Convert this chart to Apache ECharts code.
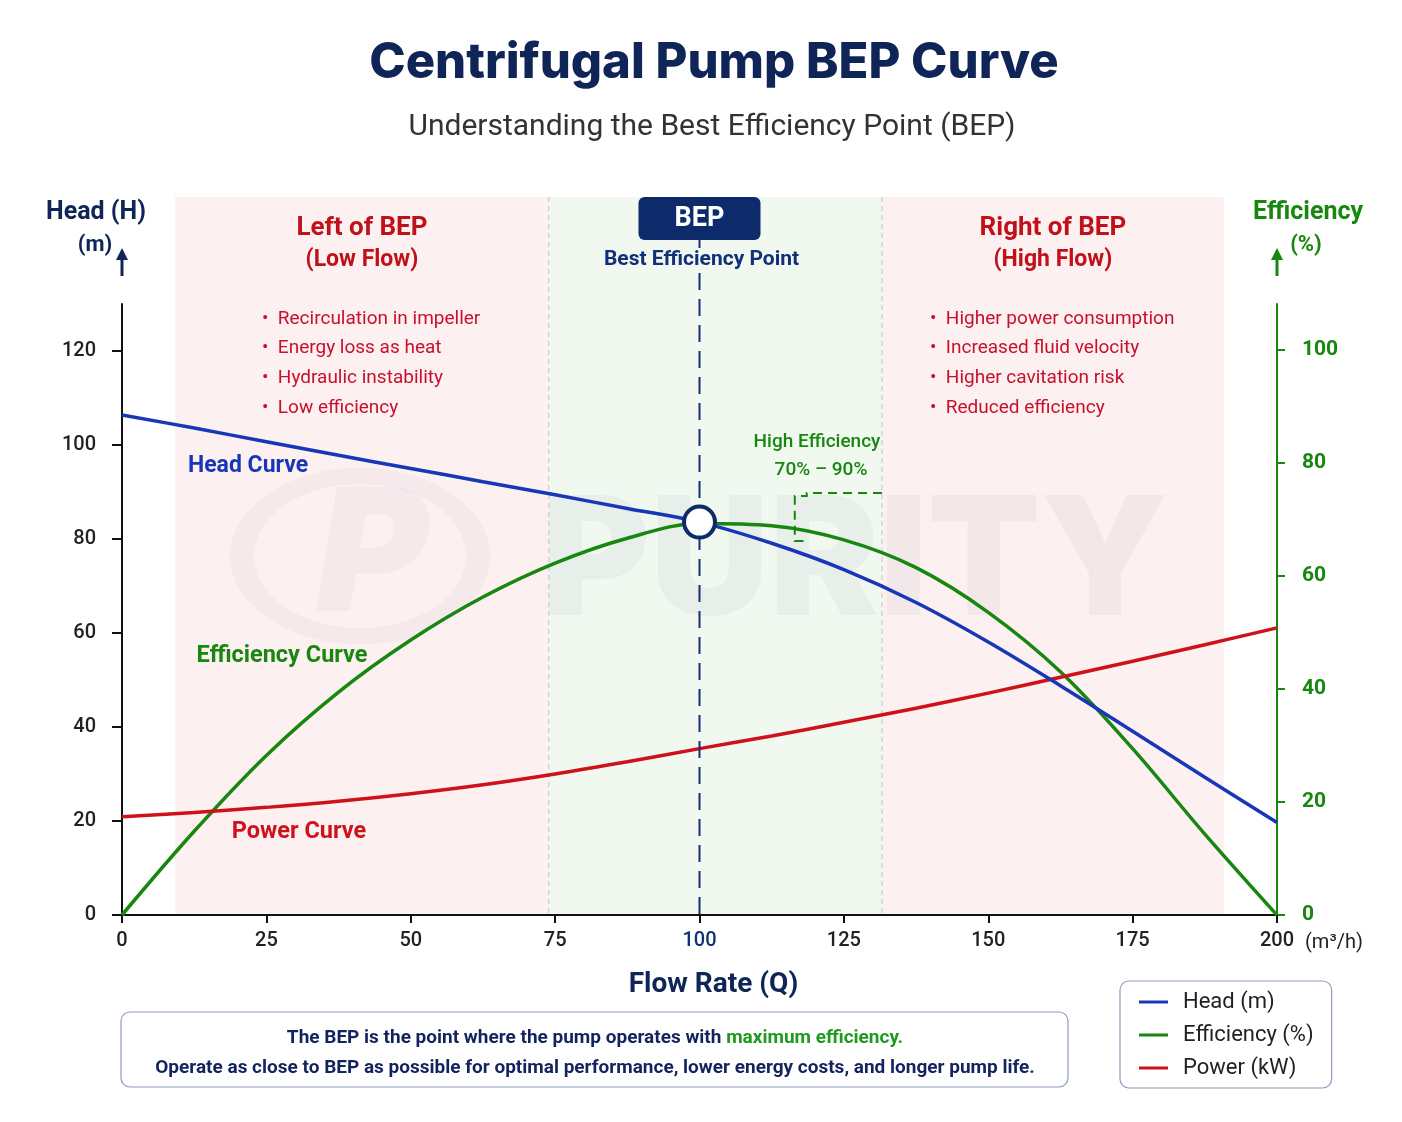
<!DOCTYPE html>
<html lang="en">
<head>
	<meta charset="UTF-8">
	<title>Centrifugal Pump BEP Curve</title>
	<script src="https://cdn.jsdelivr.net/npm/echarts@6/dist/echarts.min.js"></script>
	<style type="text/css">
		body { margin: 0; background: #fff; }
		#main { width: 1402px; height: 1122px; }
	</style>
</head>
<body>
	<div id="main"></div>
	<script type="text/javascript">
		// flow rate (m3/h) and the three curves
		var flow = [0, 12.5, 25, 37.5, 50, 62.5, 75, 87.5, 100, 112.5, 125, 137.5, 150, 162.5, 175, 187.5, 200];
		var head = [106.4, 103.6, 100.7, 97.8, 95.0, 92.2, 89.4, 86.5, 83.6, 79.1, 73.5, 66.5, 58.1, 48.8, 39.1, 29.3, 19.7];
		var efficiency = [0, 14.8, 28.2, 39.4, 48.6, 56.2, 62.2, 66.6, 69.2, 68.8, 66.3, 61.4, 53.5, 43.0, 29.4, 14.3, 0];
		var power = [20.9, 21.8, 22.9, 24.2, 25.8, 27.7, 30.0, 32.6, 35.4, 38.1, 41.0, 44.0, 47.2, 50.6, 54.0, 57.5, 61.1];

		var xTicks = [0, 25, 50, 75, 100, 125, 150, 175, 200];
		var headTicks = [0, 20, 40, 60, 80, 100, 120];
		var effTicks = [0, 20, 40, 60, 80, 100];

		// zone edges on the flow axis: low-flow start, BEP zone start/end, high-flow end
		var zoneEdges = [9.2, 73.9, 131.6, 190.8];
		var bepFlow = 100;
		var bepHead = 83.6;
		var highEffBracket = [116.5, 74.6, 66.1]; // flow, top eff, bottom eff

		var leftNotes = ['Recirculation in impeller', 'Energy loss as heat', 'Hydraulic instability', 'Low efficiency'];
		var rightNotes = ['Higher power consumption', 'Increased fluid velocity', 'Higher cavitation risk', 'Reduced efficiency'];

		var FONT = "Roboto, 'Noto Sans', sans-serif";
		var NAVY = '#0f2557';
		var BLUE = '#1736b8';
		var GREEN = '#17870f';
		var RED = '#cf111b';
		var DARKRED = '#c0101a';

		function pairs(ys) {
			return flow.map(function (x, i) { return [x, ys[i]]; });
		}

		var chart = echarts.init(document.getElementById('main'));

		var option = {
			animation: false,
			backgroundColor: '#fff',
			grid: { left: 122, right: 125, top: 304, bottom: 207, containLabel: false },
			legend: {
				data: ['Head (m)', 'Efficiency (%)', 'Power (kW)'],
				orient: 'vertical',
				left: 1120,
				top: 981,
				icon: 'rect',
				itemWidth: 29,
				itemHeight: 3,
				itemGap: 9,
				padding: [9, 18, 8, 19],
				borderColor: '#8f9cc2',
				borderWidth: 1.2,
				borderRadius: 9,
				backgroundColor: '#fff',
				textStyle: { fontSize: 22, color: '#222', fontFamily: FONT, lineHeight: 24, padding: [0, 0, 0, 10] }
			},
			xAxis: {
				type: 'value',
				min: 0,
				max: 200,
				interval: 25,
				axisLine: { lineStyle: { color: '#111', width: 2 } },
				axisTick: { length: 8, lineStyle: { color: '#111', width: 2 }, customValues: xTicks },
				axisLabel: {
					margin: 16,
					fontSize: 20,
					fontWeight: 500,
					color: '#222',
					fontFamily: FONT,
					customValues: xTicks,
					formatter: function (v) { return v === bepFlow ? '{bep|' + v + '}' : '' + v; },
					rich: { bep: { color: '#12307a', fontSize: 20, fontWeight: 500, fontFamily: FONT } }
				},
				splitLine: { show: false }
			},
			yAxis: [
				{
					type: 'value',
					position: 'left',
					min: 0,
					max: 130,
					interval: 20,
					axisLine: { show: true, lineStyle: { color: '#111', width: 2 } },
					axisTick: { show: true, length: 10, lineStyle: { color: '#111', width: 2 }, customValues: headTicks },
					axisLabel: { margin: 26, fontSize: 20, fontWeight: 500, color: '#222', fontFamily: FONT, customValues: headTicks },
					splitLine: { show: false }
				},
				{
					type: 'value',
					position: 'right',
					min: 0,
					max: 108,
					interval: 20,
					axisLine: { show: true, lineStyle: { color: GREEN, width: 2 } },
					axisTick: { show: true, length: 8, lineStyle: { color: GREEN, width: 2 }, customValues: effTicks },
					axisLabel: { margin: 25, fontSize: 21, fontWeight: 'bold', color: GREEN, fontFamily: FONT, customValues: effTicks },
					splitLine: { show: false }
				}
			],
			series: [
				{
					name: 'Head (m)',
					type: 'line',
					data: pairs(head),
					smooth: 0.35,
					showSymbol: false,
					color: BLUE,
					lineStyle: { width: 3.5, color: BLUE },
					z: 4
				},
				{
					name: 'Efficiency (%)',
					type: 'line',
					yAxisIndex: 1,
					data: pairs(efficiency),
					smooth: 0.35,
					showSymbol: false,
					color: GREEN,
					lineStyle: { width: 3.5, color: GREEN },
					z: 3
				},
				{
					name: 'Power (kW)',
					type: 'line',
					data: pairs(power),
					smooth: 0.35,
					showSymbol: false,
					color: RED,
					lineStyle: { width: 3.5, color: RED },
					z: 3
				},
				{
					name: 'BEP',
					type: 'scatter',
					data: [[bepFlow, bepHead]],
					symbolSize: 31,
					itemStyle: { color: '#fff', borderColor: '#0d2a6b', borderWidth: 4, opacity: 1 },
					z: 10
				}
			]
		};

		chart.setOption(option);

		function px(v) { return chart.convertToPixel({ xAxisIndex: 0 }, v); }
		function pyH(v) { return chart.convertToPixel({ yAxisIndex: 0 }, v); }
		function pyE(v) { return chart.convertToPixel({ yAxisIndex: 1 }, v); }

		function txt(x, y, text, font, color, align) {
			return {
				type: 'text', x: x, y: y, z: 20, silent: true,
				style: { text: text, font: font, fill: color, align: align || 'center', verticalAlign: 'middle' }
			};
		}

		function arrow(x, yTop, yBottom, color) {
			return [
				{ type: 'line', z: 20, shape: { x1: x, y1: yBottom, x2: x, y2: yTop + 10 }, style: { stroke: color, lineWidth: 3 } },
				{ type: 'polygon', z: 20, shape: { points: [[x - 6, yTop + 12], [x + 6, yTop + 12], [x, yTop]] }, style: { fill: color } }
			];
		}

		function buildGraphics() {
			var BAND_TOP = 197;
			var yBottom = pyH(0);
			var e0 = px(zoneEdges[0]), e1 = px(zoneEdges[1]), e2 = px(zoneEdges[2]), e3 = px(zoneEdges[3]);
			var bx = px(bepFlow);
			var leftC = (e0 + e1) / 2, rightC = (e2 + e3) / 2;
			var g = [];

			// zone backgrounds
			g.push({ type: 'rect', z: -10, silent: true, shape: { x: e0, y: BAND_TOP, width: e1 - e0, height: yBottom - BAND_TOP }, style: { fill: '#fcf0f0' } });
			g.push({ type: 'rect', z: -10, silent: true, shape: { x: e1, y: BAND_TOP, width: e2 - e1, height: yBottom - BAND_TOP }, style: { fill: '#f1f8f0' } });
			g.push({ type: 'rect', z: -10, silent: true, shape: { x: e2, y: BAND_TOP, width: e3 - e2, height: yBottom - BAND_TOP }, style: { fill: '#fcf0f0' } });
			[e1, e2].forEach(function (x) {
				g.push({ type: 'line', z: -9, silent: true, shape: { x1: x, y1: BAND_TOP, x2: x, y2: yBottom }, style: { stroke: '#c4c4c4', lineWidth: 1, lineDash: [5, 4] } });
			});

			// watermark
			var wm = 'rgba(140,130,180,0.055)';
			g.push({ type: 'ring', z: -8, silent: true, x: 360, y: 556, scaleY: 0.68, shape: { cx: 0, cy: 0, r: 130, r0: 106 }, style: { fill: wm } });
			g.push(txt(372, 560, 'P', 'italic 900 170px Inter', wm));
			g[g.length - 1].z = -8;
			g.push(txt(855, 565, 'PURITY', '900 165px Inter', 'rgba(130,140,170,0.08)'));
			g[g.length - 1].z = -8;

			// titles
			g.push(txt(714, 63, 'Centrifugal Pump BEP Curve', '800 49px Inter', NAVY));
			g.push(txt(712, 127, 'Understanding the Best Efficiency Point (BEP)', '30px ' + FONT, '#333'));

			// axis names and arrows
			g.push(txt(96, 213, 'Head (H)', 'bold 25px ' + FONT, NAVY));
			g.push(txt(95, 245, '(m)', 'bold 22px ' + FONT, NAVY));
			g = g.concat(arrow(px(0), 248, 276, NAVY));
			g.push(txt(1308, 213, 'Efficiency', 'bold 25px ' + FONT, GREEN));
			g.push(txt(1306, 245, '(%)', 'bold 22px ' + FONT, GREEN));
			g = g.concat(arrow(px(200), 248, 276, GREEN));
			g.push(txt(px(200) + 28, 943, '(m\u00b3/h)', '20px ' + FONT, '#222', 'left'));
			g.push(txt((px(0) + px(200)) / 2 + 14, 985, 'Flow Rate (Q)', 'bold 28px ' + FONT, NAVY));

			// zone headings
			g.push(txt(leftC, 228, 'Left of BEP', 'bold 26px ' + FONT, DARKRED));
			g.push(txt(leftC, 260, '(Low Flow)', 'bold 23px ' + FONT, DARKRED));
			g.push(txt(rightC, 228, 'Right of BEP', 'bold 26px ' + FONT, DARKRED));
			g.push(txt(rightC, 260, '(High Flow)', 'bold 23px ' + FONT, DARKRED));
			leftNotes.forEach(function (t, i) {
				g.push(txt(262, 319 + i * 29.7, '\u2022  ' + t, '19px ' + FONT, '#c8102e', 'left'));
			});
			rightNotes.forEach(function (t, i) {
				g.push(txt(930, 319 + i * 29.7, '\u2022  ' + t, '19px ' + FONT, '#c8102e', 'left'));
			});

			// BEP marker line, box and label
			g.push({ type: 'line', z: 5, silent: true, shape: { x1: bx, y1: 240, x2: bx, y2: 248 }, style: { stroke: '#12307a', lineWidth: 2 } });
			g.push({ type: 'line', z: 5, silent: true, shape: { x1: bx, y1: 273, x2: bx, y2: yBottom }, style: { stroke: '#12307a', lineWidth: 2, lineDash: [17, 9] } });
			g.push({ type: 'rect', z: 20, silent: true, shape: { x: bx - 61, y: 197, width: 122, height: 43, r: 6 }, style: { fill: '#0d2a6b' } });
			g.push(txt(bx, 219, 'BEP', 'bold 27px ' + FONT, '#fff'));
			g.push(txt(bx + 2, 260, 'Best Efficiency Point', 'bold 21px ' + FONT, '#12307a'));

			// high-efficiency bracket
			var hx = px(highEffBracket[0]), hy1 = pyE(highEffBracket[1]), hy2 = pyE(highEffBracket[2]);
			g.push({
				type: 'polyline', z: 6, silent: true,
				shape: { points: [[e2, hy1], [hx + 12, hy1], [hx + 12, hy1 + 3], [hx, hy1 + 3], [hx, hy2], [hx + 12, hy2]] },
				style: { stroke: GREEN, lineWidth: 2, lineDash: [9, 6], fill: null }
			});
			g.push(txt(817, 442, 'High Efficiency', '500 19px ' + FONT, GREEN));
			g.push(txt(821, 470, '70% \u2013 90%', '500 19px ' + FONT, GREEN));

			// curve labels
			g.push(txt(248, 466, 'Head Curve', 'bold 23px ' + FONT, BLUE));
			g.push(txt(282, 656, 'Efficiency Curve', 'bold 23.5px ' + FONT, GREEN));
			g.push(txt(299, 832, 'Power Curve', 'bold 23.5px ' + FONT, RED));

			// note box
			g.push({ type: 'rect', z: 20, silent: true, shape: { x: 121, y: 1012, width: 947, height: 75, r: 9 }, style: { fill: '#fff', stroke: '#8f9cc2', lineWidth: 1.2 } });
			g.push({
				type: 'text', x: 595, y: 1038, z: 21, silent: true,
				style: {
					text: '{a|The BEP is the point where the pump operates with }{b|maximum efficiency.}',
					align: 'center', verticalAlign: 'middle',
					rich: {
						a: { font: 'bold 19px ' + FONT, fill: '#13235e' },
						b: { font: 'bold 19px ' + FONT, fill: '#1f9a1f' }
					}
				}
			});
			g.push(txt(595, 1068, 'Operate as close to BEP as possible for optimal performance, lower energy costs, and longer pump life.', 'bold 19px ' + FONT, '#13235e'));

			return g;
		}

		chart.setOption({ graphic: { elements: buildGraphics() } });
	</script>
</body>
</html>
